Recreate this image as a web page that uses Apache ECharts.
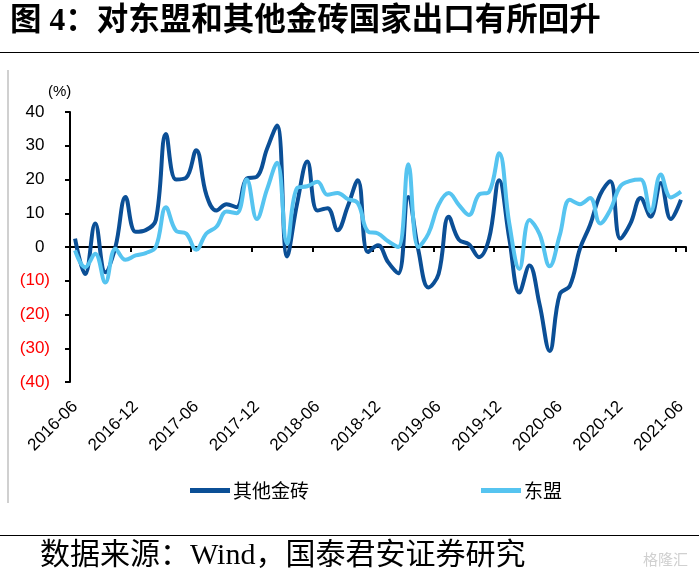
<!DOCTYPE html>
<html><head><meta charset="utf-8">
<script src="https://cdn.jsdelivr.net/npm/echarts/dist/echarts.min.js"></script>
<style>html,body{margin:0;padding:0;background:#fff}#c{width:699px;height:582px}</style>
</head><body><div id="c"></div>
<script>
const months = [
"2016-06","2016-07","2016-08","2016-09","2016-10","2016-11","2016-12",
"2017-01","2017-02","2017-03","2017-04","2017-05","2017-06","2017-07","2017-08","2017-09","2017-10","2017-11","2017-12",
"2018-01","2018-02","2018-03","2018-04","2018-05","2018-06","2018-07","2018-08","2018-09","2018-10","2018-11","2018-12",
"2019-01","2019-02","2019-03","2019-04","2019-05","2019-06","2019-07","2019-08","2019-09","2019-10","2019-11","2019-12",
"2020-01","2020-02","2020-03","2020-04","2020-05","2020-06","2020-07","2020-08","2020-09","2020-10","2020-11","2020-12",
"2021-01","2021-02","2021-03","2021-04","2021-05","2021-06"];
const seriesNames = ["其他金砖","东盟"];
const bricsValues = [2.5,-8,7,-7.5,0,14.8,4.5,5,8,33.5,20,20.5,28.7,15.5,10.8,12.7,11.8,20.3,20.8,29,36,-2.8,13,25.3,10.8,11.5,5,12,19.8,-1.5,0.5,-4.5,-7.8,14.8,-1,-12,-8,9,2.2,0.8,-3,2.5,19.8,2.5,-13.5,-5.5,-17,-30.8,-14,-11.5,-0.5,6.5,15.5,19.5,2.5,7,14.5,9,19,8.3,14];
const aseanValues = [-1,-6,-2,-10.5,-0.5,-3.8,-2.5,-1.8,0,11.8,4.8,4,-0.8,4,6,10.5,10,20,8.3,17,25,1,17.5,18,19.3,15.5,16,14.2,13,4.6,4,1.7,0,24.5,0,4,12.5,16,12.5,9.5,15.5,16.3,27.8,7,-6.5,8,3.8,-5.7,3.5,14,12.7,14.5,7,11,18,19.6,20,10.5,21.5,14.7,16.4];
const yMin = -40, yMax = 40, yStep = 10;
const titleText = "图 4：对东盟和其他金砖国家出口有所回升";
const sourceText = "数据来源：Wind，国泰君安证券研究";
const unitText = "(%)";

const chart = echarts.init(document.getElementById('c'), null, {renderer:'canvas'});
const DARK = '#0B4F96', LIGHT = '#56C4F0';
const LAT = "'Liberation Sans', Arial, sans-serif";
const CJK = "'Liberation Serif','Noto Sans CJK SC', serif";
chart.setOption({
  animation: false,
  backgroundColor: '#fff',
  grid: {left: 70, right: 13, top: 112, bottom: 200, containLabel: false},
  legend: {
    data: seriesNames, left: 185, top: 476, itemWidth: 40, itemHeight: 5, itemGap: 172,
    icon: 'rect',
    textStyle: {fontFamily: "'Noto Sans CJK SC', sans-serif", fontSize: 19, color: '#000', padding:[0,0,0,-2]}
  },
  xAxis: [{
    type: 'category', data: months, boundaryGap: true, position: 'bottom',
    axisLine: {onZero: true, lineStyle: {color: '#000', width: 2}},
    axisTick: {show: true, interval: 5, length: 5, lineStyle: {color: '#000', width: 2}},
    axisLabel: {show: false}, splitLine: {show: false}
  },{
    type: 'category', data: months, boundaryGap: true, position: 'bottom',
    axisLine: {show: false, onZero: false}, axisTick: {show: false},
    axisLabel: {interval: 5, rotate: 45, fontSize: 17, color: '#000', fontFamily: LAT, margin: 22},
    splitLine: {show: false}
  }],
  yAxis: {
    type: 'value', min: yMin, max: yMax, interval: yStep,
    axisLine: {show: true, lineStyle: {color: '#000', width: 2}},
    axisTick: {show: true, length: 5, lineStyle: {color: '#000', width: 2}},
    splitLine: {show: false},
    axisLabel: {
      margin: 20,
      formatter: v => v < 0 ? '{n|(' + Math.abs(v) + ')}' : '{p|' + v + '}{h|)}',
      rich: {
        n: {color: '#ff0000', fontSize: 17, fontFamily: LAT},
        p: {color: '#000', fontSize: 17, fontFamily: LAT},
        h: {color: 'rgba(0,0,0,0)', fontSize: 17, fontFamily: LAT}
      }
    }
  },
  series: [
    {name: seriesNames[0], type: 'line', data: bricsValues, xAxisIndex: 0, smooth: 0.4, showSymbol: false,
     lineStyle: {color: DARK, width: 4}, itemStyle: {color: DARK}},
    {name: seriesNames[1], type: 'line', data: aseanValues, xAxisIndex: 0, smooth: 0.4, showSymbol: false,
     lineStyle: {color: LIGHT, width: 4}, itemStyle: {color: LIGHT}}
  ],
  graphic: [
    {type: 'text', left: 10, top: 6, style: {text: titleText, font: "bold 31.5px " + CJK, fill: '#000'}},
    {type: 'line', shape: {x1: 0, y1: 52.5, x2: 699, y2: 52.5}, style: {stroke: '#000', lineWidth: 1.2}},
    {type: 'line', shape: {x1: 8, y1: 70, x2: 8, y2: 503}, style: {stroke: '#c0c0c0', lineWidth: 1.5}},
    {type: 'text', left: 48, top: 84, style: {text: unitText, font: "15px " + LAT, fill: '#000'}},
    {type: 'line', shape: {x1: 0, y1: 535.5, x2: 699, y2: 535.5}, style: {stroke: '#000', lineWidth: 1.2}},
    {type: 'text', left: 40, top: 541, style: {text: sourceText, font: "30px " + CJK, fill: '#000'}},
    {type: 'text', left: 643, top: 552, style: {text: '格隆汇', font: "15px 'Noto Sans CJK SC'", fill: '#d0d0d0'}}
  ]
});
</script></body></html>
